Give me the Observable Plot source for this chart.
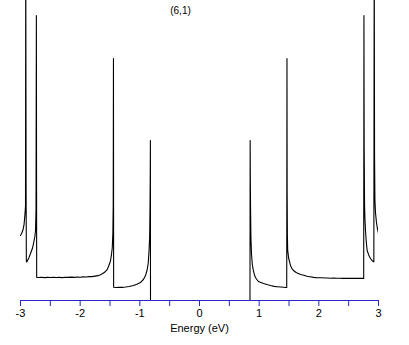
<!DOCTYPE html>
<html><head><meta charset="utf-8">
<script src="https://cdn.jsdelivr.net/npm/d3@7"></script>
<script src="https://cdn.jsdelivr.net/npm/@observablehq/plot@0.6"></script>
<style>body{margin:0;background:#fff}</style>
</head><body><div id="chart"></div>
<script>
const titleText = "(6,1)";
const xLabel = "Energy (eV)";
const tickValues = [-3, -2.5, -2, -1.5, -1, -0.5, 0, 0.5, 1, 1.5, 2, 2.5, 3];
const tickLabels = ["-3", "", "-2", "", "-1", "", "0", "", "1", "", "2", "", "3"];

const energy = [
  -3.000, -2.980, -2.960, -2.940, -2.925, -2.916, -2.912, -2.906, -2.902, -2.895,
  -2.882, -2.860, -2.832, -2.800, -2.782, -2.760, -2.748, -2.740, -2.734, -2.729,
  -2.700, -2.650, -2.600, -2.550, -2.500, -2.450, -2.400, -2.350, -2.300, -2.250,
  -2.200, -2.150, -2.100, -2.050, -2.000, -1.950, -1.900, -1.850, -1.800, -1.750,
  -1.700, -1.659, -1.620, -1.575, -1.545, -1.525, -1.505, -1.492, -1.475, -1.462,
  -1.452, -1.446, -1.442, -1.439, -1.400, -1.350, -1.300, -1.240, -1.180, -1.106,
  -1.050, -0.989, -0.940, -0.905, -0.880, -0.860, -0.845, -0.836, -0.830, -0.826,
  -0.823, -0.821,
  0.846, 0.849, 0.852, 0.856, 0.862, 0.871, 0.885, 0.900, 0.920, 0.938,
  0.960, 0.989, 1.030, 1.073, 1.130, 1.190, 1.250, 1.300, 1.360, 1.410,
  1.441, 1.462, 1.466, 1.469, 1.473, 1.478, 1.495, 1.525, 1.550, 1.575,
  1.620, 1.693, 1.750, 1.800, 1.850, 1.911, 1.950, 2.000, 2.050, 2.100,
  2.150, 2.195, 2.250, 2.300, 2.350, 2.400, 2.450, 2.500, 2.550, 2.600,
  2.650, 2.698, 2.740, 2.752, 2.756, 2.760, 2.766, 2.773, 2.782, 2.795,
  2.810, 2.835, 2.866, 2.890, 2.911, 2.922, 2.928, 2.934, 2.940, 2.950,
  2.966, 2.983, 3.000
];
const dos = [
  5.42, 5.60, 5.85, 6.35, 7.20, 7.90, 30, 9.0, 3.30, 3.20,
  3.33, 3.55, 3.92, 4.35, 4.75, 5.30, 5.83, 7.50, 23.75, 1.93,
  1.92, 1.94, 1.91, 1.93, 1.92, 1.94, 1.92, 1.93, 1.91, 1.94,
  1.93, 1.95, 1.93, 1.96, 1.94, 1.97, 1.96, 1.99, 1.99, 2.03,
  2.07, 2.15, 2.25, 2.42, 2.60, 2.83, 3.10, 3.33, 3.83, 4.40,
  5.60, 8.00, 20.17, 1.10, 1.08, 1.10, 1.09, 1.12, 1.17, 1.25,
  1.35, 1.50, 1.75, 2.08, 2.50, 3.08, 4.20, 5.20, 7.50, 10.00,
  13.33, 0,
  0, 13.33, 10.0, 7.5, 5.2, 3.92, 3.0, 2.58, 2.15, 1.92,
  1.75, 1.58, 1.50, 1.42, 1.33, 1.25, 1.18, 1.15, 1.12, 1.10,
  1.08, 1.08, 20.17, 9.0, 5.5, 4.2, 3.50, 2.92, 2.65, 2.50,
  2.33, 2.17, 2.10, 2.02, 1.98, 1.93, 1.91, 1.89, 1.90, 1.87,
  1.88, 1.86, 1.87, 1.85, 1.86, 1.84, 1.86, 1.84, 1.86, 1.84,
  1.85, 1.84, 1.84, 1.84, 23.75, 13.0, 8.0, 6.8, 5.83, 4.9,
  4.17, 3.80, 3.50, 3.35, 3.25, 3.22, 30, 12.0, 8.3, 7.3,
  6.5, 5.95, 5.60
];

const data = energy.map((e, i) => ({e, d: dos[i]}));
const axisColor = "#2626c8";

const plot = Plot.plot({
  width: 409, height: 345,
  marginLeft: 20, marginRight: 31, marginTop: 0, marginBottom: 45,
  x: {domain: [-3, 3]},
  y: {domain: [0, 25], axis: null},
  style: {fontFamily: "'Liberation Sans', Arial, sans-serif", fontSize: "11px", background: "white", color: "black"},
  marks: [
    Plot.line(data, {x: "e", y: "d", stroke: "black", strokeWidth: 1.1, clip: true}),
    Plot.ruleY([0], {stroke: axisColor, strokeWidth: 1}),
    Plot.axisX({ticks: tickValues, tickFormat: d => tickLabels[tickValues.indexOf(d)], tickSize: 6, tickPadding: 3, stroke: axisColor, fill: "black", label: null}),
    Plot.text([titleText], {frameAnchor: "top", dx: -19, dy: 6, fontSize: 10, fill: "black"}),
    Plot.text([xLabel], {frameAnchor: "bottom", dy: 31, fontSize: 11, fill: "black"})
  ]
});
document.getElementById("chart").appendChild(plot);
</script>
</body></html>
